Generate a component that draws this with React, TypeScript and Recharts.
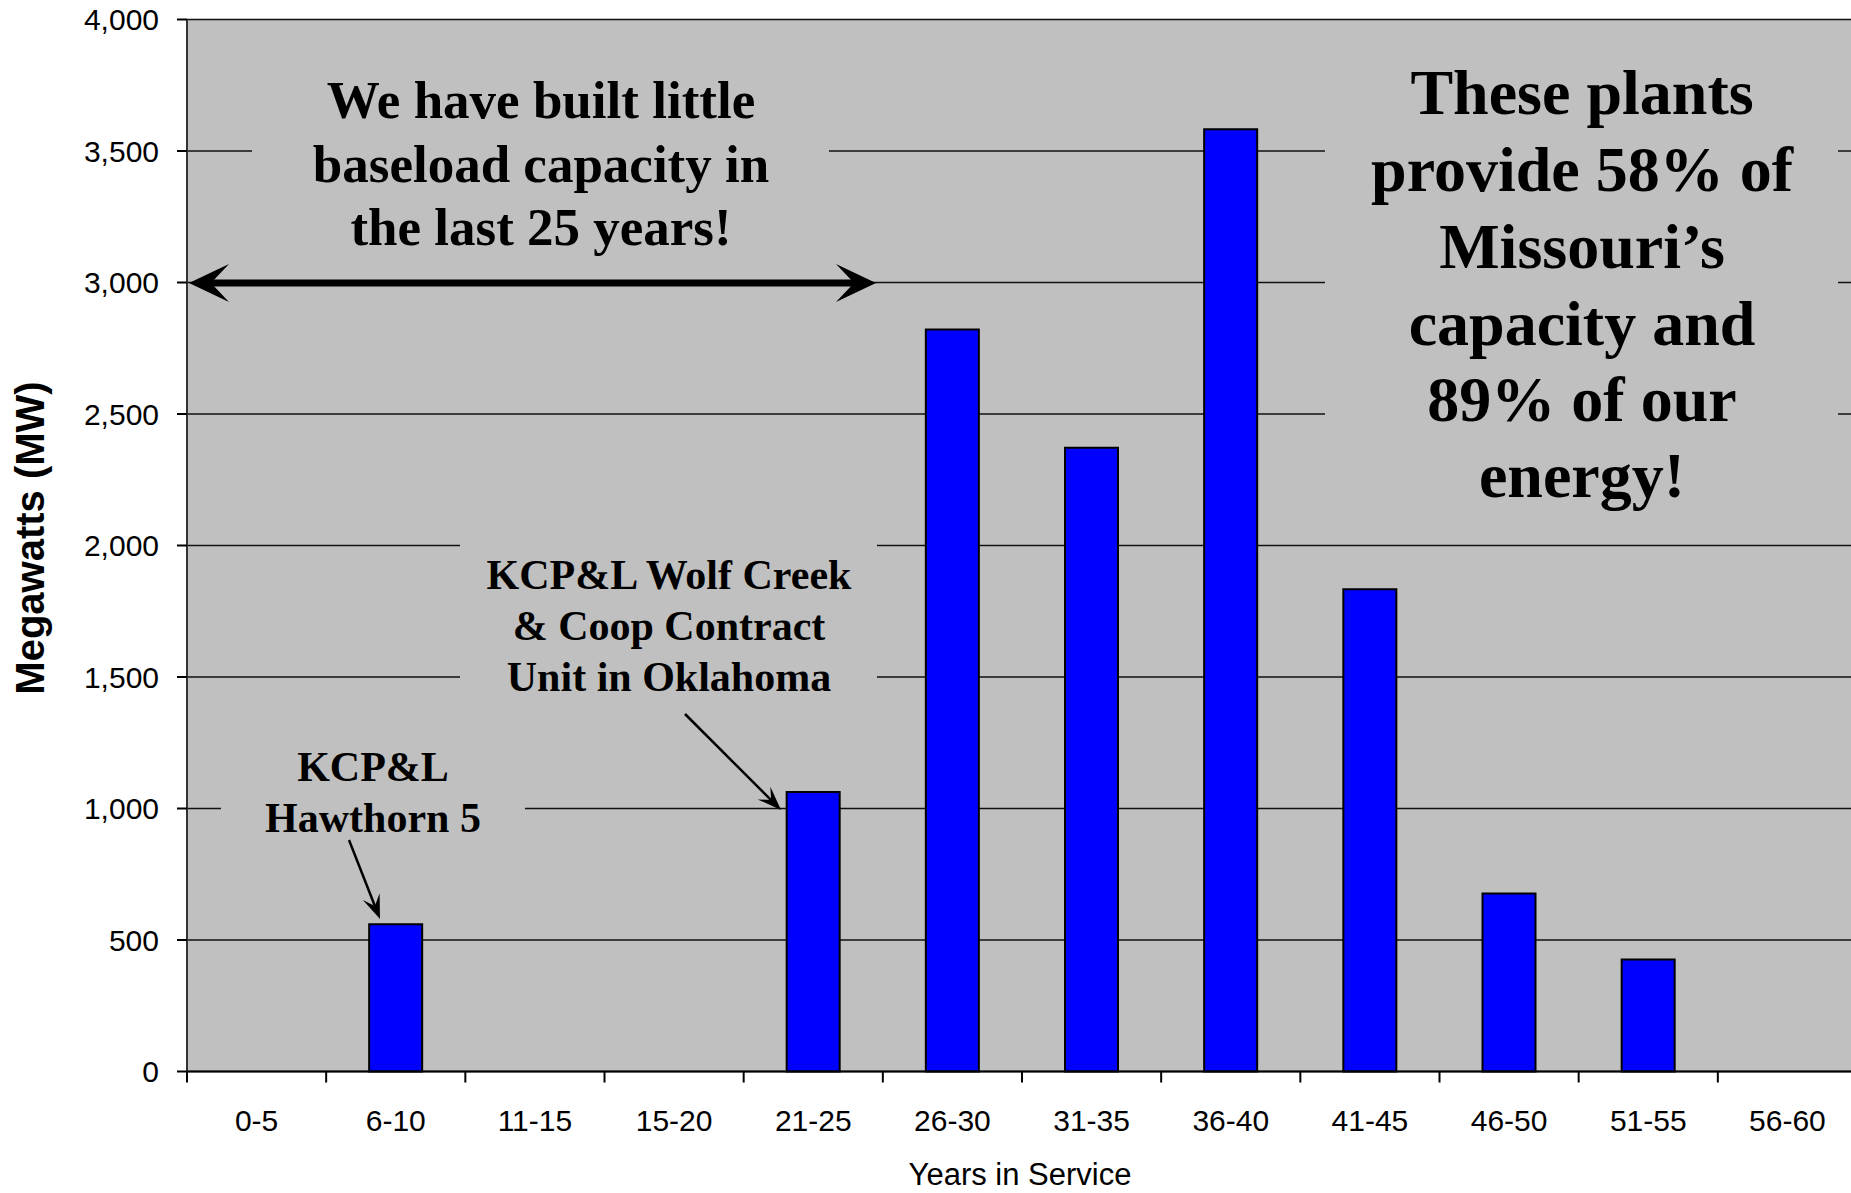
import React from 'react';
import { BarChart, Bar, XAxis, YAxis, CartesianGrid } from 'recharts';

// ---- data ----
const categories = ['0-5', '6-10', '11-15', '15-20', '21-25', '26-30', '31-35', '36-40', '41-45', '46-50', '51-55', '56-60'];
const megawatts: (number | null)[] = [null, 560, null, null, 1063, 2821, 2372, 3583, 1834, 677, 426, null];
const yTicks = [0, 500, 1000, 1500, 2000, 2500, 3000, 3500, 4000];

const data = categories.map((c, i) => ({ years: c, mw: megawatts[i] }));

// ---- layout ----
const CHART_W = 1870;
const CHART_H = 1193;
const PLOT_LEFT = 187;
const PLOT_TOP = 19.5;
const MARGIN_RIGHT = 13;
const X_AXIS_H = 121.5;
const PLOT_W = CHART_W - PLOT_LEFT - MARGIN_RIGHT;
const PLOT_BOTTOM = CHART_H - X_AXIS_H;
const BAND = PLOT_W / categories.length;

const SANS = '"Liberation Sans", Arial, sans-serif';
const SERIF = '"Liberation Serif", "Times New Roman", serif';

const fmt = (v: number) => v.toLocaleString('en-US');

const XTick = (props: any) => {
  const { x, payload } = props;
  const bx = x - BAND / 2;
  return (
    <g>
      <line x1={bx} y1={PLOT_BOTTOM} x2={bx} y2={PLOT_BOTTOM + 11} stroke="#000" strokeWidth={2} />
      <text x={x} y={1131} textAnchor="middle" fontSize={30} fontFamily={SANS} fill="#000">
        {payload.value}
      </text>
    </g>
  );
};

const Head = ({ x, y, dir, len, half, notch }: { x: number; y: number; dir: number; len: number; half: number; notch: number }) => {
  const c = Math.cos(dir), s = Math.sin(dir);
  const pt = (a: number, b: number) => `${x - a * c - b * -s},${y - a * s - b * c}`;
  return <polygon points={`${x},${y} ${pt(len, half)} ${pt(notch, 0)} ${pt(len, -half)}`} fill="#000" />;
};

const Arrow = ({ x1, y1, x2, y2, w, len, half, notch }: any) => {
  const a = Math.atan2(y2 - y1, x2 - x1);
  const ex = x2 - Math.cos(a) * notch;
  const ey = y2 - Math.sin(a) * notch;
  return (
    <g>
      <line x1={x1} y1={y1} x2={ex} y2={ey} stroke="#000" strokeWidth={w} />
      <Head x={x2} y={y2} dir={a} len={len} half={half} notch={notch} />
    </g>
  );
};

const Lines = ({ x, ys, lines, size }: { x: number; ys: number[]; lines: string[]; size: number }) => (
  <g>
    {lines.map((t, i) => (
      <text key={i} x={x} y={ys[i]} textAnchor="middle" fontSize={size} fontWeight="bold" fontFamily={SERIF} fill="#000">
        {t}
      </text>
    ))}
  </g>
);

const Overlay = () => {
  const arrowY = 283;
  return (
    <svg width={1851} height={1193} style={{ position: 'absolute', left: 0, top: 0, pointerEvents: 'none' }}>
      {/* text boxes (hide gridlines) */}
      <rect x={252} y={58} width={577} height={205} fill="#C0C0C0" />
      <rect x={460} y={525} width={417} height={188} fill="#C0C0C0" />
      <rect x={221} y={734} width={304} height={120} fill="#C0C0C0" />
      <rect x={1325} y={40} width={513} height={485} fill="#C0C0C0" />

      <Lines x={541} ys={[118, 182, 245]} size={53} lines={['We have built little', 'baseload capacity in', 'the last 25 years!']} />
      <Lines x={669} ys={[589, 640, 691]} size={42} lines={['KCP&L Wolf Creek', '& Coop Contract', 'Unit in Oklahoma']} />
      <Lines x={373} ys={[781, 832]} size={42} lines={['KCP&L', 'Hawthorn 5']} />
      <Lines
        x={1582}
        ys={[114, 191, 268, 345, 421, 497]}
        size={64}
        lines={['These plants', 'provide 58% of', 'Missouri\u2019s', 'capacity and', '89% of our', 'energy!']}
      />

      {/* double arrow */}
      <line x1={208} y1={arrowY} x2={855} y2={arrowY} stroke="#000" strokeWidth={7} />
      <Head x={189} y={arrowY} dir={Math.PI} len={40} half={19} notch={22} />
      <Head x={876} y={arrowY} dir={0} len={40} half={19} notch={22} />

      {/* pointer arrows */}
      <Arrow x1={349} y1={840} x2={380} y2={919} w={2.5} len={24} half={9} notch={14} />
      <Arrow x1={685} y1={714} x2={781} y2={810} w={2.5} len={24} half={9} notch={14} />

      {/* axis titles */}
      <text
        x={44}
        y={538}
        transform="rotate(-90, 44, 538)"
        textAnchor="middle"
        fontSize={40}
        fontWeight="bold"
        fontFamily={SANS}
        fill="#000"
      >
        Megawatts (MW)
      </text>
      <text x={1020} y={1185} textAnchor="middle" fontSize={31} fontFamily={SANS} fill="#000">
        Years in Service
      </text>
    </svg>
  );
};

export default function App() {
  return (
    <div style={{ position: 'absolute', left: 0, top: 0, width: 1851, height: 1193, overflow: 'hidden', background: '#fff' }}>
      <BarChart
        width={CHART_W}
        height={CHART_H}
        data={data}
        margin={{ top: PLOT_TOP, right: MARGIN_RIGHT, bottom: 0, left: 0 }}
        barCategoryGap={0}
      >
        <CartesianGrid vertical={false} stroke="#111" strokeWidth={1.6} fill="#C0C0C0" fillOpacity={1} />
        <XAxis
          dataKey="years"
          height={X_AXIS_H}
          interval={0}
          tickLine={false}
          axisLine={{ stroke: '#000', strokeWidth: 2 }}
          tick={<XTick />}
        />
        <YAxis
          width={PLOT_LEFT}
          domain={[0, 4000]}
          ticks={yTicks}
          interval={0}
          tickFormatter={fmt}
          tickSize={10}
          tickMargin={18}
          tickLine={{ stroke: '#000', strokeWidth: 2 }}
          axisLine={{ stroke: '#333', strokeWidth: 2 }}
          tick={{ fontSize: 30, fill: '#000', fontFamily: SANS }}
        />
        <Bar dataKey="mw" fill="#0000FF" stroke="#000" strokeWidth={2} barSize={53} isAnimationActive={false} />
      </BarChart>
      <Overlay />
    </div>
  );
}
